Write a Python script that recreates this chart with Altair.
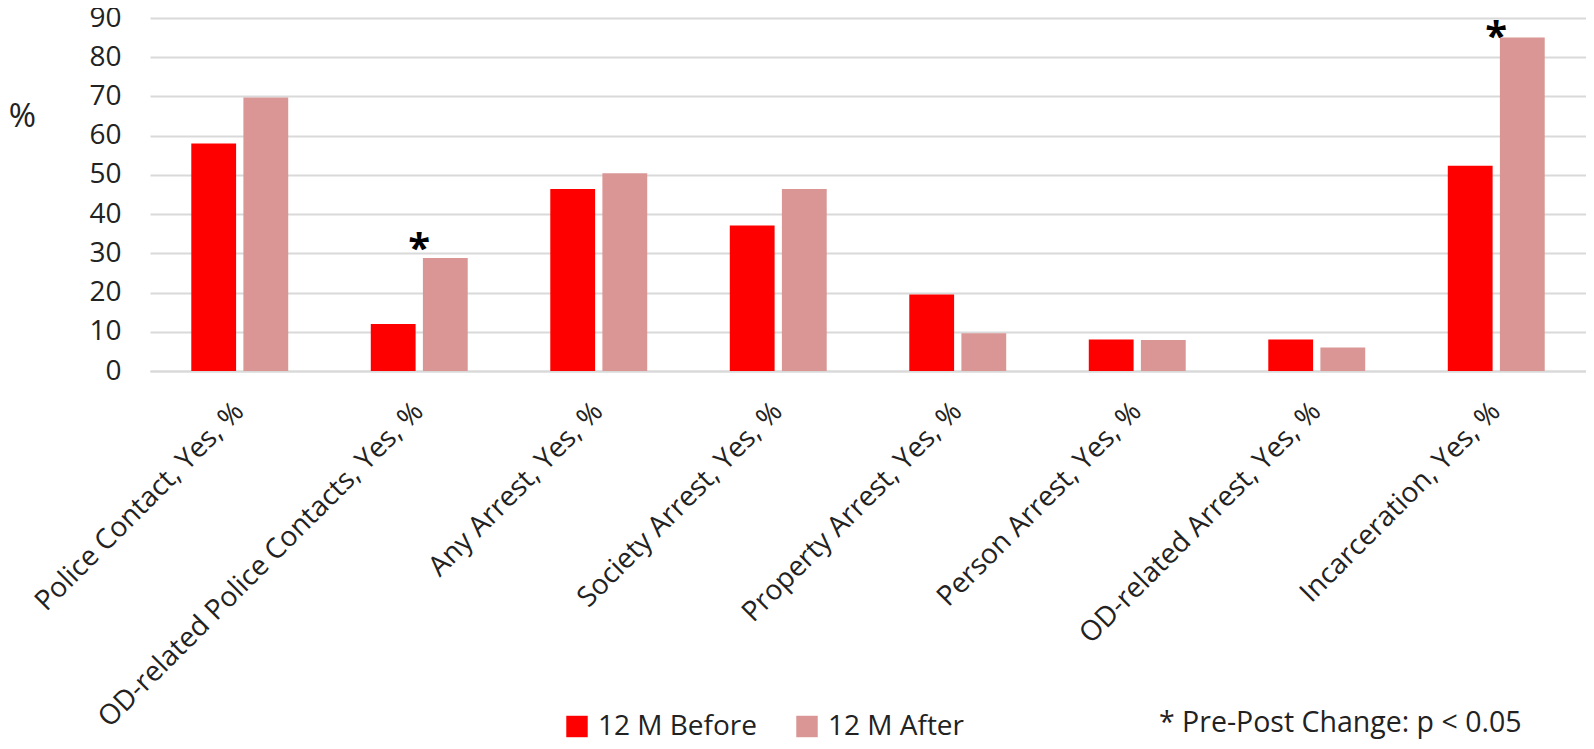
import altair as alt
import pandas as pd

categories = [
    "Police Contact, Yes, %",
    "OD-related Police Contacts, Yes, %",
    "Any Arrest, Yes, %",
    "Society Arrest, Yes, %",
    "Property Arrest, Yes, %",
    "Person Arrest, Yes, %",
    "OD-related Arrest, Yes, %",
    "Incarceration, Yes, %",
]
before = [58.0, 12.0, 46.4, 37.1, 19.5, 8.0, 8.0, 52.3]
after = [69.7, 28.8, 50.4, 46.4, 9.6, 7.9, 6.0, 85.0]
series = ["12 M Before", "12 M After"]
colors = ["#ff0000", "#d99694"]
star_categories = ["OD-related Police Contacts, Yes, %", "Incarceration, Yes, %"]
star_levels = [33.7, 87.6]
y_ticks = [0, 10, 20, 30, 40, 50, 60, 70, 80, 90]
note_text = ["* Pre-Post Change: p < 0.05"]

rows = []
for c, b, a in zip(categories, before, after):
    rows.append({"category": c, "series": series[0], "value": b})
    rows.append({"category": c, "series": series[1], "value": a})
df = pd.DataFrame(rows)
stars = pd.DataFrame({"category": star_categories, "level": star_levels, "mark": ["*"] * len(star_categories)})
notes = pd.DataFrame({"note": note_text})

FONT = "Open Sans"
TXT = "#222222"
FS = 28

x_scale = alt.Scale(domain=categories, paddingInner=0.46, paddingOuter=0.23)
y_scale = alt.Scale(domain=[0, 90], nice=False, zero=True)

x_axis = alt.Axis(
    title=None,
    labelAngle=-45,
    labelAlign="right",
    labelBaseline="middle",
    labelFontSize=FS,
    labelFont=FONT,
    labelColor=TXT,
    labelPadding=36,
    labelLimit=0,
    labelOverlap=False,
    ticks=False,
    domain=True,
    domainColor="#d9d9d9",
    domainWidth=2,
    grid=False,
)

y_axis = alt.Axis(
    values=y_ticks,
    tickCount=10,
    labelOverlap=False,
    title="%",
    titleAngle=0,
    titleX=-128,
    titleY=98,
    titleFontSize=33,
    titleFont=FONT,
    titleFontWeight="normal",
    titleColor=TXT,
    titleAlign="center",
    titleBaseline="middle",
    labelFontSize=FS,
    labelFont=FONT,
    labelColor=TXT,
    labelPadding=29,
    ticks=False,
    domain=False,
    grid=True,
    gridColor="#d9d9d9",
    gridWidth=2,
)

bars = alt.Chart(df).mark_bar().encode(
    x=alt.X("category:N", sort=categories, scale=x_scale, axis=x_axis),
    xOffset=alt.XOffset(
        "series:N", sort=series, scale=alt.Scale(domain=series, paddingInner=0.14, paddingOuter=0)
    ),
    y=alt.Y("value:Q", scale=y_scale, axis=y_axis),
    color=alt.Color(
        "series:N",
        sort=series,
        scale=alt.Scale(domain=series, range=colors),
        legend=alt.Legend(
            orient="none",
            legendX=413,
            legendY=694.5,
            direction="horizontal",
            title=None,
            symbolType="square",
            symbolSize=460,
            symbolStrokeWidth=0,
            symbolOpacity=1,
            labelFontSize=FS,
            labelFont=FONT,
            labelColor=TXT,
            labelOffset=7,
            columnPadding=36,
        ),
    ),
)

star_layer = alt.Chart(stars).mark_text(
    fontSize=40, fontWeight="bold", font=FONT, color="#000000", baseline="alphabetic", align="center", dy=23
).encode(
    x=alt.X("category:N", sort=categories, scale=x_scale, axis=x_axis),
    y=alt.Y("level:Q", scale=y_scale, axis=y_axis),
    text="mark:N",
)

note_layer = alt.Chart(notes).mark_text(
    fontSize=28.5, font=FONT, color=TXT, align="left", baseline="middle"
).encode(
    x=alt.value(1009),
    y=alt.value(705),
    text="note:N",
)

chart = (
    alt.layer(bars, star_layer, note_layer)
    .properties(
        width=1436,
        height=353,
        autosize=alt.AutoSizeParams(type="none"),
        padding={"left": 142, "top": 10, "right": 0, "bottom": 370},
    )
    .configure_view(stroke=None)
)

chart.save("out.html", embed_options={"renderer": "svg", "actions": False})
